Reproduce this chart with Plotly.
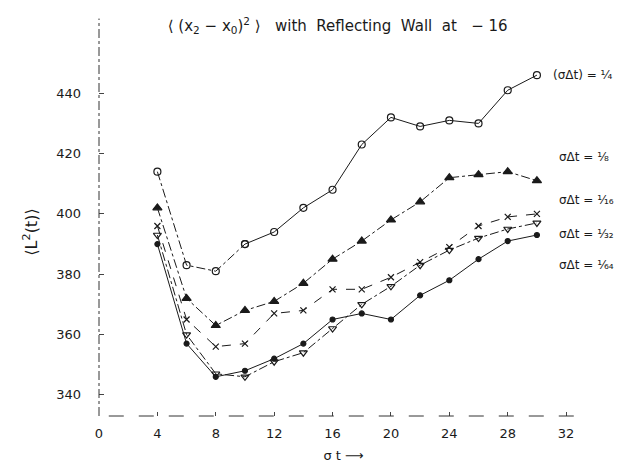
import plotly.graph_objects as go

sigma_t = [4, 6, 8, 10, 12, 14, 16, 18, 20, 22, 24, 26, 28, 30]

dt_quarter = [414, 383, 381, 390, 394, 402, 408, 423, 432, 429, 431, 430, 441, 446]
dt_eighth = [402, 372, 363, 368, 371, 377, 385, 391, 398, 404, 412, 413, 414, 411]
dt_sixteenth = [396, 365, 356, 357, 367, 368, 375, 375, 379, 384, 389, 396, 399, 400]
dt_32nd = [393, 360, 347, 346, 351, 354, 362, 370, 376, 383, 388, 392, 395, 397]
dt_64th = [390, 357, 346, 348, 352, 357, 365, 367, 365, 373, 378, 385, 391, 393]

x_ticks = [0, 4, 8, 12, 16, 20, 24, 28, 32]
y_ticks = [340, 360, 380, 400, 420, 440]

series_labels = ["(σΔt) = ¹⁄₄", "σΔt = ¹⁄₈", "σΔt = ¹⁄₁₆", "σΔt = ¹⁄₃₂", "σΔt = ¹⁄₆₄"]
label_offsets = [0, 8, 4.5, -3.5, -10]

INK = "#1a1a1a"
FONT = "DejaVu Sans"

fig = go.Figure()

def add(x, y, symbol, size, dash, width=1.0):
    fig.add_trace(go.Scatter(
        x=x, y=y, mode="lines+markers",
        line=dict(color=INK, width=width, dash=dash),
        marker=dict(symbol=symbol, size=size, color=INK,
                    line=dict(color=INK, width=1.2)),
        showlegend=False, cliponaxis=False,
    ))

# open circles: dash-dot early, solid later
add(sigma_t[:4], dt_quarter[:4], "circle-open", 7, "dashdot")
add(sigma_t[3:], dt_quarter[3:], "circle-open", 7, "solid")
add(sigma_t, dt_eighth, "triangle-up", 8, "dashdot")
add(sigma_t, dt_sixteenth, "x-thin", 6, "dash")
add(sigma_t, dt_32nd, "triangle-down-open", 7, "dashdot")
add(sigma_t, dt_64th, "circle", 5, "solid")

# right-hand series labels next to the last point of each series
last_vals = [dt_quarter[-1], dt_eighth[-1], dt_sixteenth[-1], dt_32nd[-1], dt_64th[-1]]
label_x = [sigma_t[-1] + 0.95, sigma_t[-1] + 1.4, sigma_t[-1] + 1.4, sigma_t[-1] + 1.4, sigma_t[-1] + 1.4]
for lbl, yv, off, xv in zip(series_labels, last_vals, label_offsets, label_x):
    fig.add_annotation(x=xv, y=yv + off, text=lbl, showarrow=False, xanchor="left",
                       yanchor="middle", font=dict(family=FONT, size=12, color=INK))

# hand-drawn style broken axis lines
fig.add_shape(type="line", xref="x domain", yref="y domain", x0=0, x1=0, y0=0, y1=1.08,
              line=dict(color="#333", width=1, dash="dashdot"))
fig.add_shape(type="line", xref="x domain", yref="y domain", x0=0.02, x1=1.0, y0=0, y1=0,
              line=dict(color="#333", width=1, dash="longdash"))

fig.update_layout(
    width=622, height=464,
    paper_bgcolor="white", plot_bgcolor="white",
    margin=dict(l=91, r=42, t=40, b=56, autoexpand=False),
    font=dict(family=FONT, size=12, color=INK),
    title=dict(
        text="⟨ (x<sub>2</sub> − x<sub>0</sub>)<sup>2</sup> ⟩   with  Reflecting  Wall  at   − 16",
        x=0.53, xanchor="center", y=0.962, yanchor="middle",
        font=dict(family=FONT, size=15, color=INK),
    ),
)

fig.update_xaxes(
    range=[0, 33.5], tickvals=x_ticks, ticktext=[str(v) for v in x_ticks],
    showgrid=False, zeroline=False, showline=False, automargin=False,
    ticks="inside", ticklen=4, tickcolor="#444", ticklabelstandoff=8,
    tickfont=dict(family=FONT, size=13, color=INK),
    title=dict(text="σ t ⟶", font=dict(family=FONT, size=13, color=INK), standoff=10),
)
fig.update_yaxes(
    range=[333, 455], tickvals=y_ticks, ticktext=[str(v) for v in y_ticks],
    showgrid=False, zeroline=False, showline=False, automargin=False,
    ticks="inside", ticklen=5, tickcolor="#444", ticklabelstandoff=17,
    tickfont=dict(family=FONT, size=13, color=INK),
    title=dict(text="⟨L<sup>2</sup>(t)⟩", font=dict(family=FONT, size=16, color=INK), standoff=14),
)

fig.write_html("out.html")
